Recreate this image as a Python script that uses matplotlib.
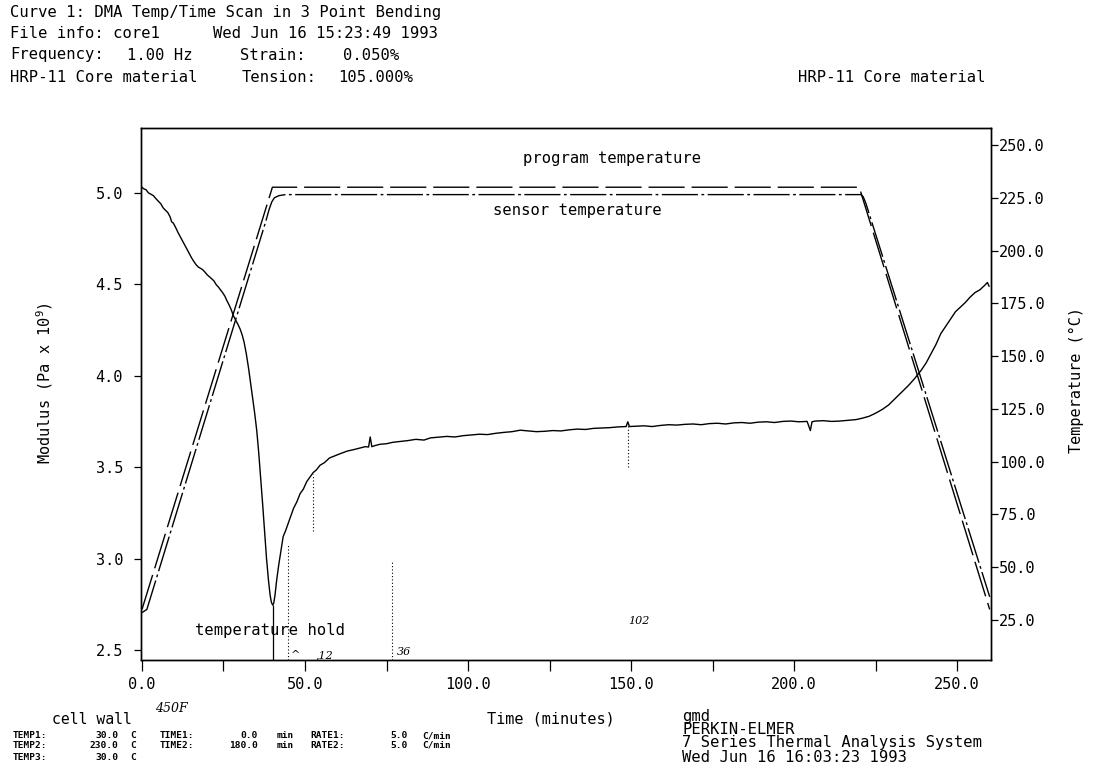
import matplotlib
matplotlib.use("Agg")
import matplotlib.pyplot as plt

plt.rcParams["font.family"] = ["DejaVu Sans Mono", "DejaVu Sans"]
plt.rcParams["mathtext.fontset"] = "custom"
plt.rcParams["mathtext.rm"] = "DejaVu Sans Mono"
plt.rcParams["mathtext.default"] = "rm"

# ---- data ----
# modulus (Pa x 10^9) vs time (min)
time_mod = [0, 0.6, 1.2, 2.0, 2.8, 3.5, 4.3, 5.0, 5.8, 6.5, 7.2, 7.9, 8.6, 9.1, 9.6,
            10.3, 11.0, 11.7, 12.4, 13.1, 13.8, 14.5, 15.2, 15.9, 16.6, 17.3, 17.9,
            18.6, 19.3, 20.0, 20.7, 21.4, 22.1, 22.8, 23.4, 24.0, 24.7, 25.4, 26.0,
            26.7, 27.4, 28.0, 28.7, 29.4, 30.1, 30.7, 31.3, 32.0, 32.7, 33.4, 34.0,
            34.6, 35.2, 35.8, 36.4, 37.0, 37.6, 38.2, 38.8, 39.3, 39.7, 40.1, 40.4,
            40.8, 41.3, 41.9, 42.5, 43.3, 44.0, 44.8, 45.6, 46.5, 47.5, 48.5, 49.5,
            50.5, 51.5, 52.5, 53.5, 54.6, 56.0, 57.5, 59.2, 61.0, 63.0, 65.0, 67.0,
            68.5, 69.5, 70.0, 70.5, 71.5, 73.0, 75.0, 77.0, 79.0, 81.5, 84.0, 86.5,
            88.5, 91.0, 93.5, 96.0, 98.5, 101, 103.5, 106, 108.5, 111, 113.5, 116,
            118.5, 121, 123.5, 126, 128.5, 131, 133.5, 136, 138.5, 141, 143.5, 146,
            148.5, 149, 149.5, 151.5, 154, 156.5, 159, 161.5, 164, 166.5, 169, 171.5,
            174, 176.5, 179, 181.5, 184, 186.5, 189, 191.5, 194, 196.5, 199, 201.5,
            204, 205, 205.5, 206.5, 209, 211.5, 214, 216.5, 219, 221, 223, 225, 227,
            229, 231, 233, 235, 237, 239, 240.5, 242, 243.5, 245, 246.5, 248, 249.5,
            251, 252.5, 254, 255.5, 257, 258.5, 259.3, 259.8]
modulus = [5.030, 5.022, 5.018, 5.000, 4.992, 4.985, 4.968, 4.955, 4.940, 4.918, 4.905,
           4.893, 4.870, 4.842, 4.835, 4.812, 4.785, 4.762, 4.738, 4.715, 4.692, 4.668,
           4.645, 4.625, 4.607, 4.594, 4.588, 4.580, 4.567, 4.552, 4.541, 4.530, 4.518,
           4.497, 4.486, 4.472, 4.455, 4.436, 4.412, 4.388, 4.360, 4.330, 4.305, 4.282,
           4.255, 4.225, 4.185, 4.120, 4.040, 3.950, 3.870, 3.790, 3.700, 3.580, 3.440,
           3.300, 3.150, 3.000, 2.880, 2.800, 2.760, 2.745, 2.755, 2.800, 2.880, 2.960,
           3.030, 3.120, 3.150, 3.190, 3.230, 3.275, 3.310, 3.355, 3.380, 3.420, 3.445,
           3.470, 3.485, 3.510, 3.525, 3.550, 3.562, 3.575, 3.588, 3.596, 3.605, 3.612,
           3.610, 3.665, 3.612, 3.618, 3.625, 3.628, 3.636, 3.640, 3.645, 3.652, 3.648,
           3.660, 3.664, 3.668, 3.665, 3.672, 3.676, 3.680, 3.678, 3.685, 3.690, 3.694,
           3.702, 3.698, 3.694, 3.696, 3.700, 3.698, 3.704, 3.708, 3.706, 3.712, 3.714,
           3.716, 3.720, 3.722, 3.748, 3.722, 3.724, 3.726, 3.722, 3.728, 3.732, 3.730,
           3.734, 3.736, 3.732, 3.738, 3.740, 3.736, 3.742, 3.744, 3.740, 3.746, 3.748,
           3.744, 3.750, 3.752, 3.748, 3.750, 3.700, 3.748, 3.752, 3.754, 3.750, 3.752,
           3.756, 3.760, 3.768, 3.778, 3.795, 3.815, 3.840, 3.875, 3.910, 3.945, 3.985,
           4.030, 4.070, 4.120, 4.170, 4.230, 4.270, 4.310, 4.350, 4.375, 4.400, 4.430,
           4.455, 4.470, 4.495, 4.510, 4.490]

# program temperature (C)
prog_time = [0, 40, 220, 260]
prog_temp = [30, 230, 230, 30]

# sensor temperature (C)
sens_time = [0, 1.5, 38.0, 39.0, 39.8, 40.6, 42.0, 44.0, 220.5, 221.2, 222.0, 260]
sens_temp = [28.5, 30.0, 214.0, 219.5, 223.0, 225.0, 226.0, 226.5, 226.5, 225.5, 222.5, 36.0]

# marker lines (time, modulus from, modulus to)
dotted_marks = [(44.8, 2.445, 3.08), (52.5, 3.15, 3.46), (76.7, 2.445, 2.99), (149.1, 3.50, 3.73)]
hold_time = 40.2

x_ticks = [0, 25, 50, 75, 100, 125, 150, 175, 200, 225, 250]
x_tick_labels = ["0.0", "", "50.0", "", "100.0", "", "150.0", "", "200.0", "", "250.0"]
y_ticks = [2.5, 3.0, 3.5, 4.0, 4.5, 5.0]
y_tick_labels = ["2.5", "3.0", "3.5", "4.0", "4.5", "5.0"]
t_ticks = [25, 50, 75, 100, 125, 150, 175, 200, 225, 250]
t_tick_labels = ["25.0", "50.0", "75.0", "100.0", "125.0", "150.0", "175.0", "200.0", "225.0", "250.0"]

W, H = 1094, 772


def fx(x):
    return x / W


def fy(y):
    return 1 - y / H


fig = plt.figure(figsize=(W / 100, H / 100), dpi=100)
ax = fig.add_axes([fx(141), fy(660), 850 / W, 532 / H])
ax2 = ax.twinx()

ax.plot(time_mod, modulus, color="black", lw=1.0)
for t, m0, m1 in dotted_marks:
    ax.vlines(t, m0, m1, color="black", lw=0.8, linestyles=(0, (1, 2)))
ax.vlines(hold_time, 2.445, min(modulus), color="black", lw=0.9)

ax2.plot(prog_time, prog_temp, color="black", lw=1.0, dashes=(26, 5))
ax2.plot(sens_time, sens_temp, color="black", lw=1.0, dashes=(26, 2.5, 2, 2.5))

ax.set_xlim(-0.3, 260.4)
ax.set_ylim(2.445, 5.355)
ax2.set_ylim(6.05, 258.05)

ax.set_xticks(x_ticks)
ax.set_xticklabels(x_tick_labels)
ax.set_yticks(y_ticks)
ax.set_yticklabels(y_tick_labels)
ax2.set_yticks(t_ticks)
ax2.set_yticklabels(t_tick_labels)

ax.tick_params(axis="x", direction="out", length=8, width=0.9, pad=4, labelsize=11)
ax.tick_params(axis="y", direction="out", length=5, width=0.9, pad=8, labelsize=11)
ax2.tick_params(axis="y", direction="out", length=5, width=0.9, pad=1, labelsize=11)
for a in (ax, ax2):
    for s in a.spines.values():
        s.set_linewidth(1.0)

ax.set_xlabel("Time (minutes)", fontsize=11)
ax.xaxis.set_label_coords(0.482, -0.096)
ax.set_ylabel("Modulus (Pa x 10$^9$)", fontsize=11)
ax.yaxis.set_label_coords(-0.101, 0.52)
ax2.set_ylabel("Temperature (°C)", fontsize=11)
ax2.yaxis.set_label_coords(1.092, 0.526)

fs = 11.2
# header
fig.text(fx(10), fy(13), "Curve 1: DMA Temp/Time Scan in 3 Point Bending", fontsize=fs, va="center")
fig.text(fx(10), fy(34), "File info: core1", fontsize=fs, va="center")
fig.text(fx(213), fy(34), "Wed Jun 16 15:23:49 1993", fontsize=fs, va="center")
fig.text(fx(10), fy(55), "Frequency:", fontsize=fs, va="center")
fig.text(fx(127), fy(55), "1.00 Hz", fontsize=fs, va="center")
fig.text(fx(240), fy(55), "Strain:", fontsize=fs, va="center")
fig.text(fx(343), fy(55), "0.050%", fontsize=fs, va="center")
fig.text(fx(10), fy(77), "HRP-11 Core material", fontsize=fs, va="center")
fig.text(fx(242), fy(77), "Tension:", fontsize=fs, va="center")
fig.text(fx(338), fy(77), "105.000%", fontsize=fs, va="center")
fig.text(fx(985), fy(77), "HRP-11 Core material", fontsize=fs, va="center", ha="right")

# in-plot labels
fig.text(fx(523), fy(158), "program temperature", fontsize=fs, va="center")
fig.text(fx(493), fy(210), "sensor temperature", fontsize=fs, va="center")
fig.text(fx(195), fy(630), "temperature hold", fontsize=fs, va="center")

# handwritten notes
hand = dict(family="DejaVu Serif", style="italic", fontsize=8, va="center")
fig.text(fx(291), fy(655), "^", **hand)
fig.text(fx(316), fy(655), ",12", **hand)
fig.text(fx(397), fy(652), "36", **hand)
fig.text(fx(628), fy(621), "102", **hand)
fig.text(fx(155), fy(709), "450F", family="DejaVu Serif", style="italic", fontsize=9, va="center")

# footer left
fig.text(fx(52), fy(719), "cell wall", fontsize=10.6, va="center")
small = dict(fontsize=6.8, fontweight="bold", va="center")
rows = [("TEMP1:", "30.0", "TIME1:", "0.0", "RATE1:", "5.0", 736),
        ("TEMP2:", "230.0", "TIME2:", "180.0", "RATE2:", "5.0", 745),
        ("TEMP3:", "30.0", None, None, None, None, 758)]
for lab1, v1, lab2, v2, lab3, v3, yy in rows:
    fig.text(fx(13), fy(yy), lab1, **small)
    fig.text(fx(118), fy(yy), v1, ha="right", **small)
    fig.text(fx(130), fy(yy), "C", **small)
    if lab2:
        fig.text(fx(160), fy(yy), lab2, **small)
        fig.text(fx(258), fy(yy), v2, ha="right", **small)
        fig.text(fx(277), fy(yy), "min", **small)
        fig.text(fx(310), fy(yy), lab3, **small)
        fig.text(fx(408), fy(yy), v3, ha="right", **small)
        fig.text(fx(422), fy(yy), "C/min", **small)

# footer right
fig.text(fx(682), fy(717), "gmd", fontsize=fs, va="center")
fig.text(fx(682), fy(730), "PERKIN-ELMER", fontsize=fs, va="center")
fig.text(fx(682), fy(743), "7 Series Thermal Analysis System", fontsize=fs, va="center")
fig.text(fx(682), fy(757), "Wed Jun 16 16:03:23 1993", fontsize=fs, va="center")

fig.savefig("out.png", dpi=100)
